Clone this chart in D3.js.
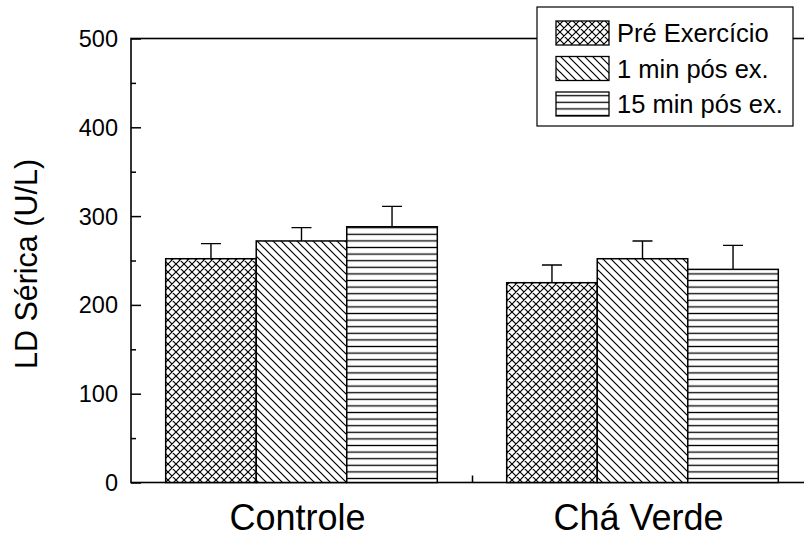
<!DOCTYPE html>
<html>
<head>
<meta charset="utf-8">
<script src="https://cdn.jsdelivr.net/npm/d3@7"></script>
<style>
  body { margin: 0; background: #fff; }
  text { font-family: "Liberation Sans", Arial, sans-serif; fill: #000; }
</style>
</head>
<body>
<div id="chart"></div>
<script>
// data
const groups = ["Controle", "Chá Verde"];
const series = ["Pré Exercício", "1 min pós ex.", "15 min pós ex."];
const means = [
    [252, 272, 288],   // Controle
    [225, 252, 240]    // Chá Verde
];
const errors = [
    [17, 15, 23],
    [20, 20, 27]
];
const yTicks = [0, 100, 200, 300, 400, 500];
const yMinorTicks = [50, 150, 250, 350, 450];

const svgWidth = 804, svgHeight = 539;
const margin = { top: 38.5, left: 131, bottom: 57 };

const svg = d3.select("#chart").append("svg")
    .attr("width", svgWidth)
    .attr("height", svgHeight);

// hatch patterns
const defs = svg.append("defs");
const cross = defs.append("pattern").attr("id", "p0")
    .attr("patternUnits", "userSpaceOnUse").attr("width", 8).attr("height", 8);
cross.append("rect").attr("width", 8).attr("height", 8).attr("fill", "#fff");
cross.append("path").attr("d", "M-1,-1L9,9M-1,9L9,-1M-1,7L1,9M7,-1L9,1M7,9L9,7M-1,1L1,-1")
    .attr("stroke", "#000").attr("stroke-width", 1.2);

const diag = defs.append("pattern").attr("id", "p1")
    .attr("patternUnits", "userSpaceOnUse").attr("width", 8).attr("height", 8);
diag.append("rect").attr("width", 8).attr("height", 8).attr("fill", "#fff");
diag.append("path").attr("d", "M-1,-1L9,9M-1,7L1,9M7,-1L9,1")
    .attr("stroke", "#000").attr("stroke-width", 1.2);

const horiz = defs.append("pattern").attr("id", "p2")
    .attr("patternUnits", "userSpaceOnUse").attr("width", 8).attr("height", 6.6);
horiz.append("rect").attr("width", 8).attr("height", 6.6).attr("fill", "#fff");
horiz.append("line").attr("x1", 0).attr("x2", 8).attr("y1", 3.3).attr("y2", 3.3)
    .attr("stroke", "#000").attr("stroke-width", 1.3);

// scales
const x = d3.scaleLinear().domain([0.5, 2.5]).range([margin.left, 813]);
const y = d3.scaleLinear().domain([0, 500]).range([svgHeight - margin.bottom + 0.5, margin.top]);
const barW = 0.2655;

// frame
svg.append("rect")
    .attr("x", x(0.5)).attr("y", y(500))
    .attr("width", x(2.5) - x(0.5)).attr("height", y(0) - y(500))
    .attr("fill", "none").attr("stroke", "#000").attr("stroke-width", 1.6);

// bars
const barData = [];
groups.forEach((g, gi) => series.forEach((s, si) => {
    barData.push({ gi, si, v: means[gi][si], e: errors[gi][si] });
}));

const barX = d => x(d.gi + 1 + (d.si - 1.5) * barW);

// error bars (upward only)
svg.selectAll(".err").data(barData).enter().append("path")
    .attr("class", "err")
    .attr("d", d => {
        const cx = barX(d) + (x(barW) - x(0)) / 2;
        return `M${cx},${y(d.v)}V${y(d.v + d.e)}M${cx - 10},${y(d.v + d.e)}H${cx + 10}`;
    })
    .attr("stroke", "#000").attr("stroke-width", 1.4).attr("fill", "none");

svg.selectAll(".bar").data(barData).enter().append("rect")
    .attr("class", "bar")
    .attr("x", barX)
    .attr("width", x(barW) - x(0))
    .attr("y", d => y(d.v))
    .attr("height", d => y(0) - y(d.v))
    .attr("fill", d => `url(#p${d.si})`)
    .attr("stroke", "#000").attr("stroke-width", 1.5);

// y axis
const yAxis = svg.append("g").attr("transform", `translate(${x(0.5)},0)`)
    .call(d3.axisRight(y).tickValues(yTicks).tickSize(10).tickFormat(""));
yAxis.select(".domain").remove();
yAxis.selectAll("line").attr("stroke-width", 1.5);
const yMinor = svg.append("g").attr("transform", `translate(${x(0.5)},0)`)
    .call(d3.axisRight(y).tickValues(yMinorTicks).tickSize(5).tickFormat(""));
yMinor.select(".domain").remove();
yMinor.selectAll("line").attr("stroke-width", 1.5);

svg.selectAll(".ylab").data(yTicks).enter().append("text")
    .attr("class", "ylab")
    .attr("x", 118).attr("y", d => y(d) + 8.5)
    .attr("text-anchor", "end")
    .style("font-size", "23.5px")
    .text(d => d);

// x axis: tick between groups, labels at group centers
const xAxis = svg.append("g").attr("transform", `translate(0,${y(0)})`)
    .call(d3.axisTop(x).tickValues([1.5]).tickSize(7).tickFormat(""));
xAxis.select(".domain").remove();
xAxis.selectAll("line").attr("stroke-width", 1.5);

svg.selectAll(".xlab").data(groups).enter().append("text")
    .attr("class", "xlab")
    .attr("x", (d, i) => x(i + 1) - 4)
    .attr("y", 530)
    .attr("text-anchor", "middle")
    .style("font-size", "36px")
    .text(d => d);

// y title
svg.append("text")
    .attr("transform", "translate(37,264) rotate(-90)")
    .attr("text-anchor", "middle")
    .style("font-size", "30.5px")
    .text("LD Sérica (U/L)");

// legend
const legend = svg.append("g");
legend.append("rect")
    .attr("x", 537).attr("y", 7).attr("width", 256).attr("height", 119)
    .attr("fill", "#fff").attr("stroke", "#000").attr("stroke-width", 1.2);
series.forEach((s, i) => {
    const ly = 21 + i * 35.5;
    legend.append("rect")
        .attr("x", 556).attr("y", ly).attr("width", 53).attr("height", 24)
        .attr("fill", `url(#p${i})`).attr("stroke", "#000").attr("stroke-width", 1.3);
    legend.append("text")
        .attr("x", 617).attr("y", ly + 21)
        .style("font-size", "25.5px")
        .text(s);
});
</script>
</body>
</html>
